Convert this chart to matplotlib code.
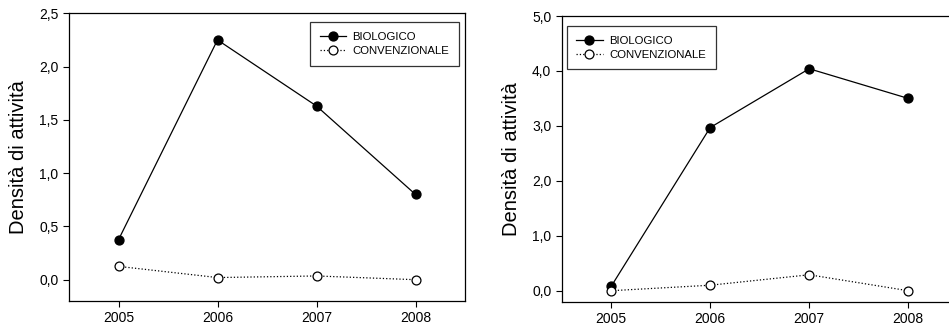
import matplotlib
matplotlib.use("Agg")
import matplotlib.pyplot as plt

plt.rcParams['font.family'] = ['Liberation Sans', 'DejaVu Sans']

years = [2005, 2006, 2007, 2008]
left_bio = [0.375, 2.25, 1.63, 0.80]
left_conv = [0.125, 0.02, 0.035, 0.0]
right_bio = [0.08, 2.97, 4.04, 3.50]
right_conv = [0.0, 0.10, 0.29, 0.0]
left_yticks = [0.0, 0.5, 1.0, 1.5, 2.0, 2.5]
right_yticks = [0.0, 1.0, 2.0, 3.0, 4.0, 5.0]
ylabel = "Densità di attività"
labels = ["BIOLOGICO", "CONVENZIONALE"]

W, H = 949, 327
fig = plt.figure(figsize=(W / 100, H / 100), dpi=100)

def px_axes(x0, x1, ytop, ybot):
    return fig.add_axes([x0 / W, 1 - ybot / H, (x1 - x0) / W, (ybot - ytop) / H])

ax1 = px_axes(69, 465, 13.3, 301)
ax2 = px_axes(561.7, 957.7, 16, 301.7)

def draw(ax, bio, conv, yticks, ymax, legend_loc, anchor):
    ax.plot(years, bio, '-', color='black', lw=0.9, marker='o', ms=6.4,
            mfc='black', mec='black', label=labels[0])
    ax.plot(years, conv, ':', color='black', lw=0.9, marker='o', ms=6.4,
            mfc='white', mec='black', mew=0.9, label=labels[1])
    ax.set_xlim(2004.5, 2008.5)
    ax.set_ylim(-0.2, ymax)
    ax.set_xticks(years)
    ax.set_xticklabels([str(y) for y in years])
    ax.set_yticks(yticks)
    ax.set_yticklabels([f"{v:.1f}".replace('.', ',') for v in yticks])
    ax.tick_params(direction='out', length=4, width=0.8, labelsize=10, pad=3.5)
    for s in ax.spines.values():
        s.set_linewidth(0.9)
    ax.set_ylabel(ylabel, fontsize=14.5, labelpad=8)
    leg = ax.legend(loc=legend_loc, bbox_to_anchor=anchor, fontsize=8.2,
                    frameon=True, fancybox=False, edgecolor='black',
                    handlelength=2.3, handletextpad=0.6, labelspacing=0.35,
                    borderpad=0.85, borderaxespad=0)
    leg.get_frame().set_linewidth(0.9)

draw(ax1, left_bio, left_conv, left_yticks, 2.5, 'upper right',
     (1 - 6 / 396, 1 - 9 / 287.7))
draw(ax2, right_bio, right_conv, right_yticks, 5.0, 'upper left',
     (5 / 396, 1 - 10 / 285.7))

fig.savefig("out.png", dpi=100)
